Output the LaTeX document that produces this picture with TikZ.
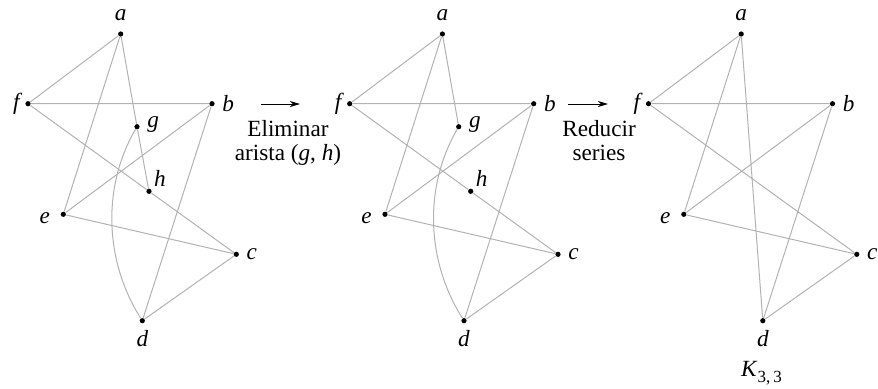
\documentclass[tikz,border=0pt]{standalone}
\usepackage{fontspec}
\setmainfont{Liberation Serif}
\usetikzlibrary{arrows.meta}

\begin{document}
\begin{tikzpicture}[
    x=0.5pt, y=-0.5pt,
    font=\fontsize{11.6}{12}\selectfont,
    vtx/.style={circle, fill=black, inner sep=0pt, minimum size=2.6pt},
    edge/.style={draw=black!30, line width=0.5pt},
    arr/.style={-{Stealth[length=5pt, width=3pt, inset=1.5pt]}, line width=0.5pt},
    every label/.style={font=\fontsize{11.6}{12}\selectfont\itshape, inner sep=1pt},
    label distance=2.5pt
]
    \useasboundingbox (0,0) rectangle (878,388);

    % Original graph
    \node[vtx, label={[label distance=4pt]above:a}] (a1) at (120.7,34) {};
    \node[vtx, label={[label distance=1.5pt]left:f}] (f1) at (28,103.7) {};
    \node[vtx, label=right:b] (b1) at (212,103.7) {};
    \node[vtx, label={[yshift=1pt]right:g}] (g1) at (137,126.7) {};
    \node[vtx, label={[label distance=0.5pt]above right:h}] (h1) at (149,191.3) {};
    \node[vtx, label={[label distance=4pt, yshift=-2pt]left:e}] (e1) at (63.3,214.3) {};
    \node[vtx, label=right:c] (c1) at (236.3,254.3) {};
    \node[vtx, label={[label distance=2pt]below:d}] (d1) at (142.3,320.7) {};
    \draw[edge] (a1) -- (f1) (a1) -- (e1) (a1) -- (g1) (g1) -- (h1)
        (f1) -- (b1) (f1) -- (h1) (h1) -- (c1) (b1) -- (e1)
        (b1) -- (d1) (e1) -- (c1) (c1) -- (d1);
    \draw[edge] (g1) .. controls +(-35,60) and +(-38,-60) .. (d1);

    % Step 1
    \coordinate (s1) at (261,104);
    \coordinate (t1) at (300,104);
    \draw[arr] (s1) -- (t1);
    \node[anchor=base, align=center] (elim) at (288,160.7) {Eliminar\\arista (\textit{g}, \textit{h})};

    % Graph without edge (g,h)
    \begin{scope}[shift={(321.7,0)}]
    \node[vtx, label={[label distance=4pt]above:a}] (a2) at (120.7,34) {};
    \node[vtx, label={[label distance=1.5pt]left:f}] (f2) at (28,103.7) {};
    \node[vtx, label=right:b] (b2) at (212,103.7) {};
    \node[vtx, label={[yshift=1pt]right:g}] (g2) at (137,126.7) {};
    \node[vtx, label={[label distance=0.5pt]above right:h}] (h2) at (149,191.3) {};
    \node[vtx, label={[label distance=4pt, yshift=-2pt]left:e}] (e2) at (63.3,214.3) {};
    \node[vtx, label=right:c] (c2) at (236.3,254.3) {};
    \node[vtx, label={[label distance=2pt]below:d}] (d2) at (142.3,320.7) {};
    \end{scope}
    \draw[edge] (a2) -- (f2) (a2) -- (e2) (a2) -- (g2)
        (f2) -- (b2) (f2) -- (h2) (h2) -- (c2) (b2) -- (e2)
        (b2) -- (d2) (e2) -- (c2) (c2) -- (d2);
    \draw[edge] (g2) .. controls +(-35,60) and +(-38,-60) .. (d2);

    % Step 2
    \coordinate (s2) at (568,104);
    \coordinate (t2) at (608,104);
    \draw[arr] (s2) -- (t2);
    \node[anchor=base, align=center] (redu) at (599,160.7) {Reducir\\series};

    % K_{3,3}
    \begin{scope}[shift={(620.5,0)}]
    \node[vtx, label={[label distance=4pt]above:a}] (a3) at (120.7,34) {};
    \node[vtx, label={[label distance=1.5pt]left:f}] (f3) at (28,103.7) {};
    \node[vtx, label=right:b] (b3) at (212,103.7) {};
    \node[vtx, label={[label distance=4pt, yshift=-2pt]left:e}] (e3) at (63.3,214.3) {};
    \node[vtx, label=right:c] (c3) at (236.3,254.3) {};
    \node[vtx, label={[label distance=2pt]below:d}] (d3) at (142.3,320.7) {};
    \end{scope}
    \draw[edge] (a3) -- (f3) (a3) -- (e3) (a3) -- (d3)
        (f3) -- (b3) (f3) -- (c3) (b3) -- (e3)
        (b3) -- (d3) (e3) -- (c3) (c3) -- (d3);
    \node[anchor=base] (k33) at (761.5,376) {\textit{K}\raisebox{-0.6ex}{\fontsize{8.5}{9}\selectfont 3,\,3}};
\end{tikzpicture}
\end{document}
